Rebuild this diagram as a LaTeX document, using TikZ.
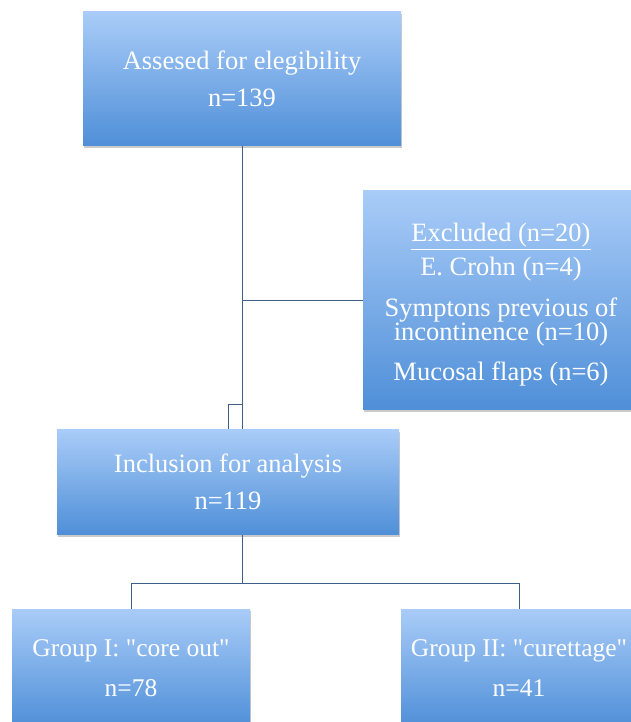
\documentclass[tikz,border=0pt]{standalone}
\usepackage{fontspec}
\setmainfont{Liberation Serif}
\usepackage{xcolor}
\usetikzlibrary{positioning,calc,shadows}
\definecolor{boxtop}{HTML}{A9CCF8}
\definecolor{boxbot}{HTML}{4F8FD8}
\definecolor{linkcol}{HTML}{3E5F8C}

\begin{document}
\begin{tikzpicture}[
  x=1pt, y=-1pt,
  box/.style={rectangle, top color=boxtop, bottom color=boxbot, text=white,
              align=center, inner sep=0pt,
              font=\fontsize{26.5}{37}\selectfont,
              drop shadow={shadow xshift=1pt, shadow yshift=-2pt,
                           opacity=0.35, fill=black!60}},
  link/.style={draw=linkcol, line width=1pt}
]
  \useasboundingbox (0,0) rectangle (631,722);
  \clip (0,0) rectangle (631,722);
  % boxes
  \node[box, minimum width=318pt, minimum height=134pt] (assess) at (242,79)
       {Assesed for elegibility\\ n=139};
  \node[box, minimum width=276pt, minimum height=219pt,
        label={[text=white, align=center, yshift=-5pt,
                font=\fontsize{26.5}{26}\selectfont]center:
        \underline{Excluded (n=20)}\\[7pt] E. Crohn (n=4)\\[15pt]
        Symptons previous of\\[-2pt] incontinence (n=10)\\[14pt]
        Mucosal flaps (n=6)}] (excl) at (501,300) {};
  \node[box, minimum width=342pt, minimum height=105pt] (incl) at (228,482)
       {Inclusion for analysis\\ n=119};
  \node[box, minimum width=238pt, minimum height=118pt,
        font=\fontsize{25.5}{40}\selectfont] (grpA) at (131,668)
       {Group I: \textquotedbl core out\textquotedbl\\ n=78};
  \node[box, minimum width=236pt, minimum height=118pt,
        font=\fontsize{25.5}{40}\selectfont] (grpB) at (519,668)
       {Group II: \textquotedbl curettage\textquotedbl\\ n=41};
  % connectors
  \coordinate (notch) at ($(incl.north)+(0,-25)$);
  \coordinate (split) at ($(assess.south)+(0,437)$);
  \draw[link] (assess.south) -- (assess.south |- incl.north);
  \draw[link] (assess.south |- excl.west) -- (excl.west);
  \draw[link] (notch -| assess.south) -- (notch) -- (incl.north);
  \draw[link] (incl.south -| assess.south) -- (split);
  \draw[link] (grpA.north) |- (split) -| (grpB.north);
\end{tikzpicture}
\end{document}
